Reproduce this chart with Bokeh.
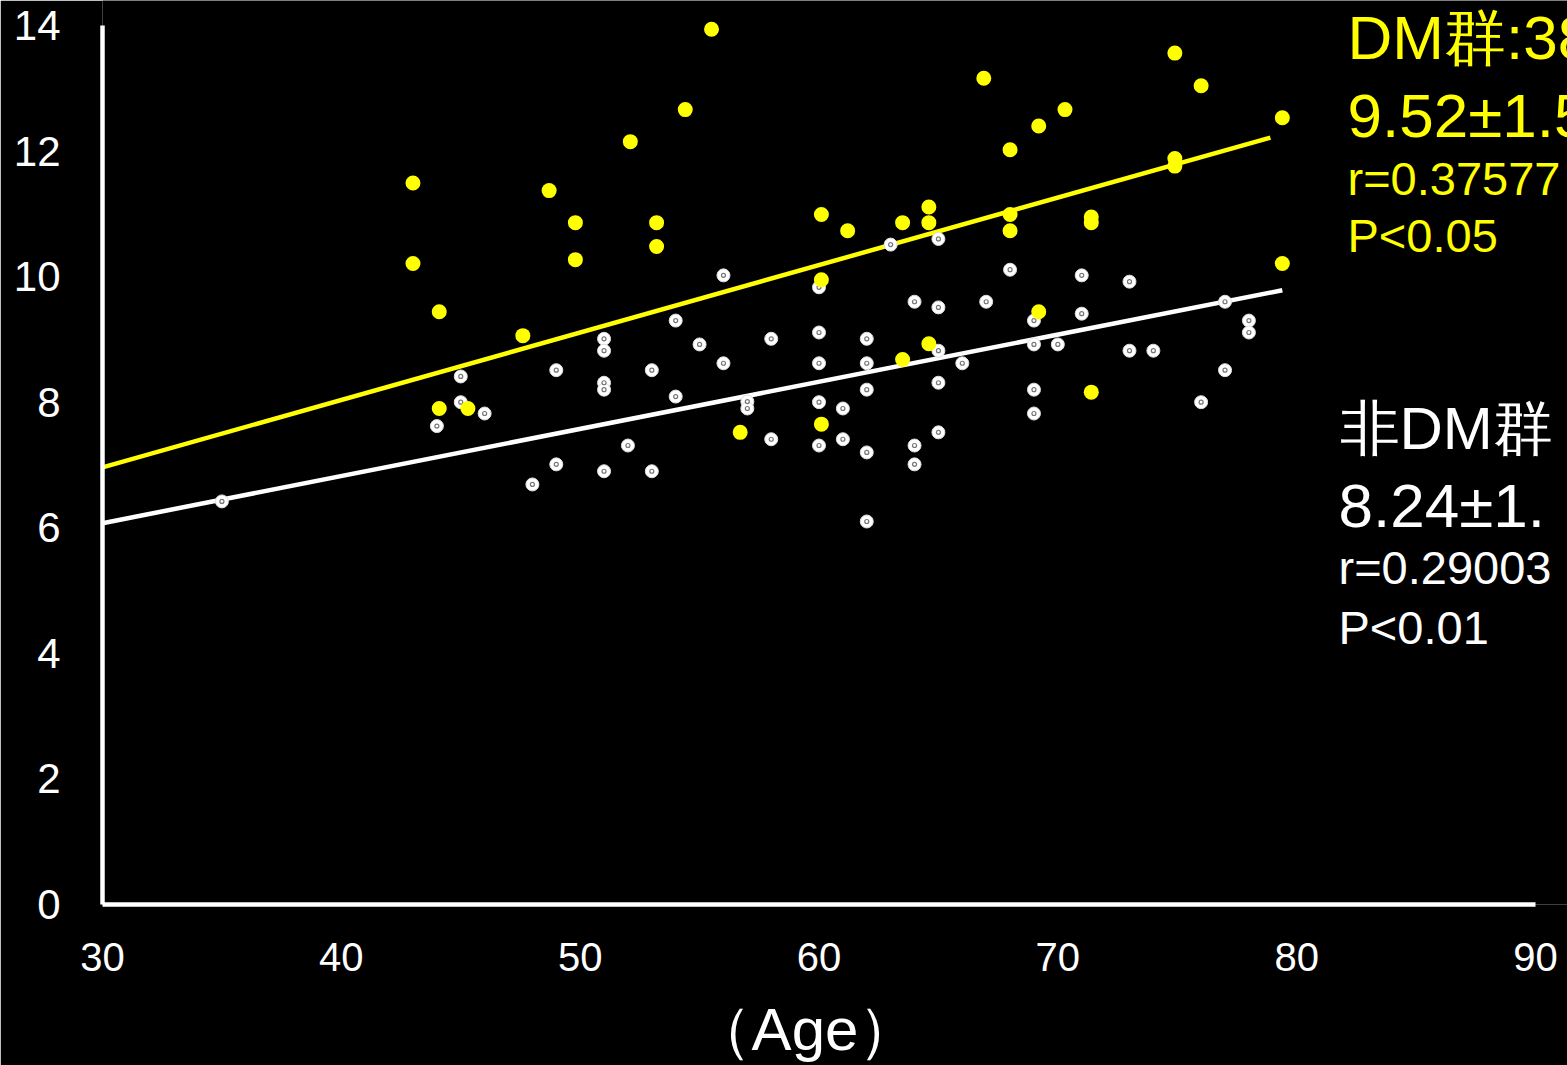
from bokeh.plotting import figure
from bokeh.models import Label, FixedTicker
from bokeh.embed import file_html
from bokeh.resources import INLINE

# ---- data ----
dm_age = [43.0, 43.0, 44.1, 44.1, 45.3, 47.6, 48.7, 49.8, 49.8, 52.1, 53.2, 53.2,
          54.4, 55.5, 56.7, 60.1, 60.1, 60.1, 61.2, 63.5, 63.5, 64.6, 64.6, 64.6,
          66.9, 68.0, 68.0, 68.0, 69.2, 69.2, 70.3, 71.4, 71.4, 71.4, 74.9, 74.9,
          74.9, 76.0, 79.4, 79.4]
dm_val = [11.49, 10.21, 9.44, 7.90, 7.90, 9.06, 11.37, 10.86, 10.27, 12.15, 10.86, 10.48,
          12.66, 13.94, 7.52, 10.99, 9.95, 7.65, 10.73, 10.86, 8.68, 11.11, 10.86, 8.93,
          13.16, 12.02, 10.99, 10.73, 12.40, 9.44, 12.66, 10.95, 10.86, 8.16, 13.56, 11.88,
          11.76, 13.04, 12.53, 10.21]

non_age = [35, 44, 45, 45, 46, 48, 49, 49, 51, 51, 51, 51, 51, 52, 53, 53, 54, 54, 55,
           56, 56, 57, 57, 58, 58, 60, 60, 60, 60, 60, 61, 61, 62, 62, 62, 62, 62, 63,
           64, 64, 64, 65, 65, 65, 65, 65, 66, 67, 68, 69, 69, 69, 69, 70, 71, 71, 73,
           73, 74, 76, 77, 77, 78, 78]
non_val = [6.42, 7.62, 8.41, 8.00, 7.82, 6.69, 8.51, 7.01, 9.01, 8.82, 8.31, 8.20, 6.90,
           7.31, 8.51, 6.90, 9.30, 8.09, 8.92, 10.02, 8.62, 8.01, 7.90, 9.01, 7.41, 9.83,
           9.11, 8.62, 8.00, 7.31, 7.90, 7.41, 9.01, 8.62, 8.20, 7.20, 6.10, 10.51, 9.60,
           7.31, 7.01, 10.60, 9.51, 8.82, 8.31, 7.52, 8.62, 9.60, 10.11, 9.30, 8.92, 8.20,
           7.82, 8.92, 10.02, 9.41, 9.92, 8.82, 8.82, 8.00, 9.60, 8.51, 9.30, 9.11]

# regression lines: [start age, end age], slope, intercept
dm_fit_range = [30.0, 78.9]
dm_slope, dm_intercept = 0.1074, 3.74
non_fit_range = [30.0, 79.4]
non_slope, non_intercept = 0.0751, 3.82

x_ticks = [30, 40, 50, 60, 70, 80, 90]
y_ticks = [0, 2, 4, 6, 8, 10, 12, 14]
x_title = "（Age）"
dm_texts = ["DM群:38例", "9.52±1.52", "r=0.37577", "P<0.05"]
non_texts = ["非DM群", "8.24±1.", "r=0.29003", "P<0.01"]

FONT = "Liberation Sans"

# pixel geometry of the reference frame
PX_X = 1433 / 60.0   # px per year
PX_Y = 880 / 14.0    # px per unit
X0, Y0 = 102, 905    # pixel of (30, 0)
W, H = 1567, 1065

x_end = 30 + (W - X0) / PX_X
y_end = 14 + 25 / PX_Y

p = figure(width=W, height=H, x_range=(30, x_end), y_range=(0, y_end),
           output_backend="svg", toolbar_location=None,
           min_border_left=X0, min_border_right=0, min_border_top=0,
           min_border_bottom=H - Y0)
p.background_fill_color = "black"
p.border_fill_color = "black"
p.outline_line_color = None
p.xgrid.visible = False
p.ygrid.visible = False

for ax in (p.xaxis[0], p.yaxis[0]):
    ax.axis_line_color = "white"
    ax.axis_line_width = 4.5
    ax.major_tick_line_color = None
    ax.minor_tick_line_color = None
    ax.major_label_text_color = "white"
    ax.major_label_text_font = FONT
p.xaxis[0].ticker = FixedTicker(ticks=x_ticks)
p.yaxis[0].ticker = FixedTicker(ticks=y_ticks)
p.xaxis[0].bounds = (30, 90)
p.yaxis[0].bounds = (0, 14)
p.xaxis[0].major_label_text_font_size = "40px"
p.yaxis[0].major_label_text_font_size = "42px"
p.xaxis[0].major_label_standoff = 32
p.yaxis[0].major_label_standoff = 36
# the frame runs past x=90 (room for the side texts); a trailing em space
# recentres the title on the 30-90 axis
p.xaxis[0].axis_label = x_title + "\u2003"
p.xaxis[0].axis_label_text_color = "white"
p.xaxis[0].axis_label_text_font = FONT
p.xaxis[0].axis_label_text_font_size = "60px"
p.xaxis[0].axis_label_text_font_style = "normal"
p.xaxis[0].axis_label_standoff = 22

# regression lines
p.line(dm_fit_range, [dm_intercept + dm_slope * a for a in dm_fit_range],
       line_color="#FFFF00", line_width=4.5)
p.line(non_fit_range, [non_intercept + non_slope * a for a in non_fit_range],
       line_color="white", line_width=4.5)

# non-DM points: white disc with small grey ring
p.scatter(non_age, non_val, size=13, fill_color="white", line_color="#dddddd",
          line_width=1)
p.scatter(non_age, non_val, size=4, fill_color="white", line_color="#777777",
          line_width=1.2)

# DM points
p.scatter(dm_age, dm_val, size=15, fill_color="#FFFF00", line_color="#FFFF00",
          line_width=0)

# texts
def yd(py, fs):
    return (Y0 - (py - 0.36 * fs)) / PX_Y

def xd(px):
    return 30 + (px - X0) / PX_X

dm_specs = [(1347, 59, 62), (1347, 137, 62), (1347, 195, 47), (1347, 252, 47)]
for t, (px, py, fs) in zip(dm_texts, dm_specs):
    p.add_layout(Label(x=xd(px), y=yd(py, fs), text=t, text_color="#FFFF00",
                       text_font=FONT, text_font_size=f"{fs}px",
                       text_baseline="alphabetic"))

non_specs = [(1339, 450, 60), (1338, 528, 62), (1338, 585, 47), (1338, 645, 47)]
for t, (px, py, fs) in zip(non_texts, non_specs):
    p.add_layout(Label(x=xd(px), y=yd(py, fs), text=t, text_color="white",
                       text_font=FONT, text_font_size=f"{fs}px",
                       text_baseline="alphabetic"))

open("out.html", "w").write(file_html(p, INLINE))
